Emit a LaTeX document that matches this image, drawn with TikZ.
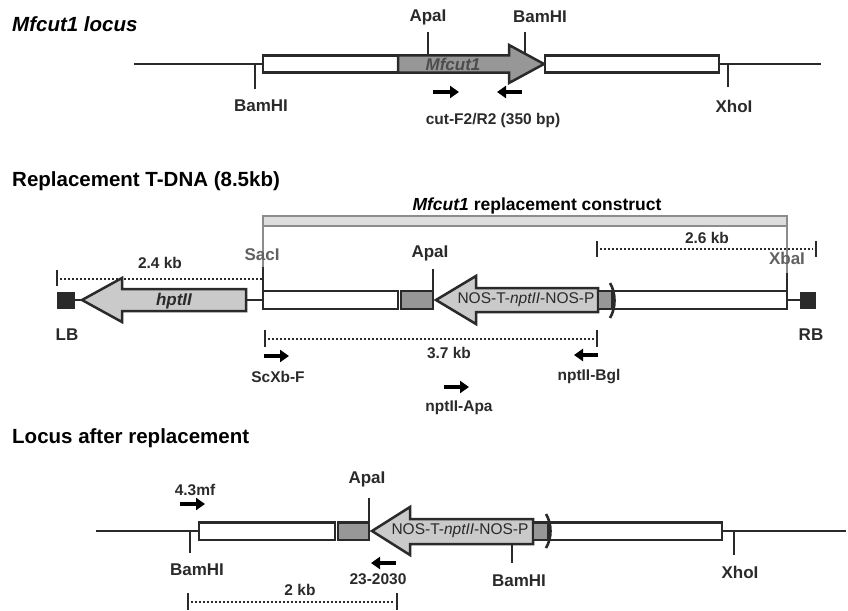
\documentclass[tikz,border=0pt]{standalone}
\usepackage{fontspec}
\setmainfont{Liberation Sans}
\usetikzlibrary{arrows.meta}
\definecolor{lc}{HTML}{2A2A2A}
\definecolor{gfill}{HTML}{979797}
\definecolor{lfill}{HTML}{CACACA}
\definecolor{barfill}{HTML}{DDDDDD}
\definecolor{bardraw}{HTML}{8C8C8C}
\tikzset{
  bbline/.style={draw=lc, line width=2.5pt},
  wbox/.style={draw=lc, fill=white, line width=2.5pt},
  gbox/.style={draw=lc, fill=gfill, line width=2.5pt},
  larrow/.style={draw=lc, fill=lfill, line width=2.5pt, line join=miter},
  tickline/.style={draw=lc, line width=2.5pt},
  dotline/.style={draw=lc, line width=2pt, dash pattern=on 1.6pt off 2.4pt},
  primer/.style={draw=black, line width=3.4pt, -{Triangle[length=9pt,width=12pt]}},
  enz/.style={font=\bfseries\fontsize{17}{17}\selectfont, text=lc, inner sep=0pt},
  small/.style={font=\bfseries\fontsize{15.5}{15.5}\selectfont, text=lc, inner sep=0pt},
  ttl/.style={font=\bfseries\fontsize{20.5}{20.5}\selectfont, text=black, anchor=west, inner sep=0pt},
  glbl/.style={font=\fontsize{15.5}{15.5}\selectfont, text=lc, inner sep=0pt},
}
\begin{document}
\begin{tikzpicture}[x=1pt,y=-1pt]
\useasboundingbox (0,0) rectangle (848,610);

%% ---------------- Row 1 ----------------
\node[ttl] (t1) at (12,24) {\itshape Mfcut1 locus};
\draw[bbline] (134,64) -- (263,64);
\draw[bbline] (719,64) -- (821,64);
\draw[wbox] (263,55.5) rectangle (398,72.5);
\draw[draw=lc, fill=gfill, line width=2.5pt, line join=miter]
  (398,55.5) -- (509,55.5) -- (509,45) -- (544,64) -- (509,83) -- (509,72.5) -- (398,72.5) -- cycle;
\node[font=\bfseries\itshape\fontsize{17}{17}\selectfont, text=black!70, inner sep=0pt] (mf) at (453,64) {Mfcut1};
\draw[wbox] (545,55.5) rectangle (719,72.5);
\draw[tickline] (428,32) -- (428,55.5);
\node[enz] (apa1) at (428,17) {ApaI};
\draw[tickline] (525,32) -- (525,53.5);
\node[enz] (bam1t) at (540,17) {BamHI};
\draw[tickline] (255,64) -- (255,89);
\node[enz] (bam1b) at (261,106) {BamHI};
\draw[tickline] (728,64) -- (728,87);
\node[enz] (xho1) at (734,106) {XhoI};
\coordinate (pf1) at (433,92); \coordinate (pf2) at (459,92);
\coordinate (pr1) at (522,92); \coordinate (pr2) at (497,92);
\draw[primer] (pf1) -- (pf2);
\draw[primer] (pr1) -- (pr2);
\node[small] (cut) at (493,120) {cut-F2/R2 (350 bp)};

%% ---------------- Row 2 ----------------
\node[ttl] (t2) at (12,181) {Replacement T-DNA (8.5kb)};
\draw[draw=bardraw, fill=barfill, line width=1.4pt] (263,216) rectangle (787,226);
\node[font=\bfseries\fontsize{17.5}{17.5}\selectfont, text=black, inner sep=0pt] (con) at (537,206) {\textit{Mfcut1} replacement construct};
\draw[draw=bardraw, line width=1.4pt] (263,226) -- (263,267);
\draw[draw=bardraw, line width=1.4pt] (787,226) -- (787,273);
% backbone
\fill[lc] (57,292) rectangle (75,309);
\draw[bbline] (75,300) -- (84,300);
\draw[larrow] (82,300) -- (122,278) -- (122,289) -- (246,289) -- (246,311) -- (122,311) -- (122,322) -- cycle;
\node[font=\bfseries\itshape\fontsize{17}{17}\selectfont, text=lc, inner sep=0pt] (hpt) at (174,301) {hptII};
\draw[bbline] (246,300) -- (263,300);
\draw[wbox] (263,291) rectangle (398,309);
\draw[gbox] (401,291) rectangle (433,309);
\draw[larrow] (436,300) -- (476,276) -- (476,288) -- (598,288) -- (598,312) -- (476,312) -- (476,324) -- cycle;
\node[glbl] (nos2) at (526,300) {NOS-T-\textit{nptII}-NOS-P};
\draw[gbox] (598,291) rectangle (612,309);
\draw[wbox] (613,291) rectangle (787,309);
\draw[draw=lc, line width=2.6pt] (610,283) .. controls (616,293) and (616,308) .. (610,318);
\draw[bbline] (787,300) -- (800,300);
\fill[lc] (800,292) rectangle (816,309);
% sites
\draw[tickline] (263,267) -- (263,291);
\node[enz, text=black!62] (sac) at (262,255) {SacI};
\draw[tickline] (787,273) -- (787,291);
\node[enz, text=black!62] (xba) at (787,258) {XbaI};
\draw[tickline] (433,269) -- (433,291);
\node[enz] (apa2) at (430,253) {ApaI};
% distances
\draw[tickline] (57,270) -- (57,286);
\draw[dotline] (60,279) -- (263,279);
\node[small] (d24) at (160,263) {2.4 kb};
\draw[tickline] (597,241) -- (597,257);
\draw[tickline] (816,241) -- (816,257);
\draw[dotline] (600,249) -- (813,249);
\node[small] (d26) at (707,238) {2.6 kb};
\draw[tickline] (265,330) -- (265,347);
\draw[tickline] (597,330) -- (597,347);
\draw[dotline] (268,339) -- (594,339);
\node[small] (d37) at (449,353) {3.7 kb};
\node[enz] (lb) at (67,335) {LB};
\node[enz] (rb) at (811,335) {RB};
% primers
\coordinate (s1) at (264,356); \coordinate (s2) at (289,356);
\draw[primer] (s1) -- (s2);
\node[small] (scx) at (278,377) {ScXb-F};
\coordinate (b1) at (598,355); \coordinate (b2) at (574,355);
\draw[primer] (b1) -- (b2);
\node[small] (bgl) at (589,377) {nptII-Bgl};
\coordinate (a1) at (444,387); \coordinate (a2) at (469,387);
\draw[primer] (a1) -- (a2);
\node[small] (apap) at (459,408) {nptII-Apa};

%% ---------------- Row 3 ----------------
\node[ttl] (t3) at (12,438) {Locus after replacement};
\draw[bbline] (96,531) -- (199,531);
\draw[bbline] (722,531) -- (846,531);
\draw[wbox] (199,522.5) rectangle (335,540);
\draw[gbox] (338,522.5) rectangle (369,540);
\draw[larrow] (372,531) -- (410,507) -- (410,519) -- (533,519) -- (533,544) -- (410,544) -- (410,555) -- cycle;
\node[glbl] (nos3) at (460,531) {NOS-T-\textit{nptII}-NOS-P};
\draw[gbox] (533,522.5) rectangle (548,540);
\draw[wbox] (549,522.5) rectangle (722,540);
\draw[draw=lc, line width=2.6pt] (546,514) .. controls (552,524) and (552,538) .. (546,548);
\draw[tickline] (190,531) -- (190,553);
\node[enz] (bam3a) at (197,570) {BamHI};
\draw[tickline] (369,498) -- (369,522.5);
\node[enz] (apa3) at (367,479) {ApaI};
\draw[tickline] (512,544) -- (512,563);
\node[enz] (bam3b) at (519,581) {BamHI};
\draw[tickline] (734,531) -- (734,555);
\node[enz] (xho3) at (740,572) {XhoI};
\coordinate (m1) at (180,504); \coordinate (m2) at (205,504);
\draw[primer] (m1) -- (m2);
\node[small] (mf43) at (195,490) {4.3mf};
\coordinate (q1) at (396,563); \coordinate (q2) at (371,563);
\draw[primer] (q1) -- (q2);
\node[small] (p23) at (378,579) {23-2030};
\draw[tickline] (188,593) -- (188,610);
\draw[tickline] (397,593) -- (397,610);
\draw[dotline] (191,602) -- (394,602);
\node[small] (d2) at (300,590) {2 kb};
\end{tikzpicture}
\end{document}
